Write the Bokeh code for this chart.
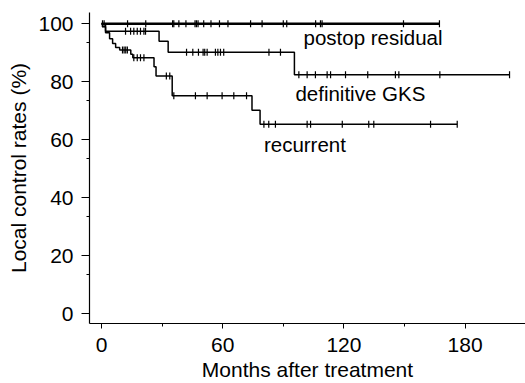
import numpy as np
from bokeh.plotting import figure
from bokeh.models import Range1d, FixedTicker, Label
from bokeh.embed import file_html
from bokeh.resources import INLINE

# ---- data (months, local control %) ----
postop_times = [0.0]
postop_values = [100.0]
postop_end = 167.3
postop_censor = [0.5, 1.3, 12.9, 21.9, 35.2, 35.8, 38.3, 41.8, 46.3, 47.0, 47.8, 50.6,
                 54.2, 58.4, 62.6, 73.8, 79.5, 90.0, 91.7, 106.0, 108.4, 109.2, 149.5, 167.3]

gks_times = [0.0, 2.0, 28.5, 33.0, 95.5]
gks_values = [100.0, 97.4, 94.0, 90.2, 82.4]
gks_end = 202.0
gks_censor = [11.9, 14.4, 16.0, 17.7, 19.3, 21.0, 21.8, 42.1, 45.2, 48.0, 50.3, 51.1,
              52.3, 56.4, 57.6, 58.9, 60.5, 82.9, 88.6, 97.7, 101.8, 105.9, 111.7, 113.4,
              120.8, 131.8, 145.5, 147.2, 167.5, 202.0]

rec_times = [0.0, 0.5, 2.0, 4.0, 5.5, 7.0, 9.0, 14.5, 15.5, 26.0, 27.0, 35.0, 74.5, 78.5]
rec_values = [100.0, 99.0, 96.9, 94.8, 93.2, 91.8, 91.0, 89.5, 88.3, 85.2, 82.0, 75.2, 70.2, 65.3]
rec_end = 176.1
rec_censor = [10.4, 11.2, 12.0, 12.8, 16.0, 17.7, 19.3, 21.0, 32.1, 33.8, 35.8, 46.5, 52.3,
              59.7, 65.5, 71.8, 80.4, 82.8, 86.1, 101.8, 103.5, 119.2, 132.3, 134.8, 162.9, 176.1]

series_names = ["postop residual", "definitive GKS", "recurrent"]
x_ticks = [0, 60, 120, 180]
y_ticks = [0, 20, 40, 60, 80, 100]

FONT = "Liberation Sans"

p = figure(width=525, height=383, output_backend="svg", toolbar_location=None,
           x_range=Range1d(-5.94, 209.9), y_range=Range1d(-3.43, 103.9),
           min_border_left=89, min_border_right=0, min_border_top=12, min_border_bottom=58)
p.outline_line_color = None
p.grid.visible = False
p.background_fill_color = "white"
p.border_fill_color = "white"


def km(times, values, end, censor, width):
    xs = list(times) + [end]
    ys = list(values) + [values[-1]]
    p.step(xs, ys, mode="after", line_color="black", line_width=width)
    idx = np.searchsorted(np.array(times), np.array(censor), side="right") - 1
    cy = np.array(values)[idx]
    p.scatter(censor, cy, marker="dash", angle=np.pi / 2, size=7,
              line_color="black", line_width=1.2)


km(postop_times, postop_values, postop_end, postop_censor, 2.6)
km(gks_times, gks_values, gks_end, gks_censor, 1.5)
km(rec_times, rec_values, rec_end, rec_censor, 1.5)

label_pos = [(100, 95.4), (96, 76.1), (80.4, 58.3)]
for name, (lx, ly) in zip(series_names, label_pos):
    p.add_layout(Label(x=lx, y=ly, text=name, text_font=FONT, text_font_size="20.5px",
                       text_color="black", text_baseline="alphabetic", text_align="left"))

p.xaxis.ticker = FixedTicker(ticks=x_ticks, minor_ticks=[30, 90, 150])
p.yaxis.ticker = FixedTicker(ticks=y_ticks, minor_ticks=[13.5, 33.5, 53.5, 73.5, 93.5])

for ax in (p.xaxis, p.yaxis):
    ax.axis_line_color = "black"
    ax.axis_line_width = 1.2
    ax.major_tick_line_color = "black"
    ax.minor_tick_line_color = "black"
    ax.major_tick_in = 0
    ax.minor_tick_in = 0
    ax.major_label_text_font = FONT
    ax.major_label_text_font_size = "21px"
    ax.major_label_text_color = "black"
    ax.axis_label_text_font = FONT
    ax.axis_label_text_font_size = "21px"
    ax.axis_label_text_font_style = "normal"
    ax.axis_label_text_color = "black"

p.xaxis.major_tick_out = 5
p.xaxis.minor_tick_out = 3
p.yaxis.major_tick_out = 8
p.yaxis.minor_tick_out = 3
p.xaxis.major_label_standoff = 9
p.yaxis.major_label_standoff = 8
p.xaxis.axis_label = "Months after treatment"
p.yaxis.axis_label = "Local control rates (%)"
p.xaxis.axis_label_standoff = 3
p.yaxis.axis_label_standoff = 5

open("out.html", "w").write(file_html(p, INLINE))
